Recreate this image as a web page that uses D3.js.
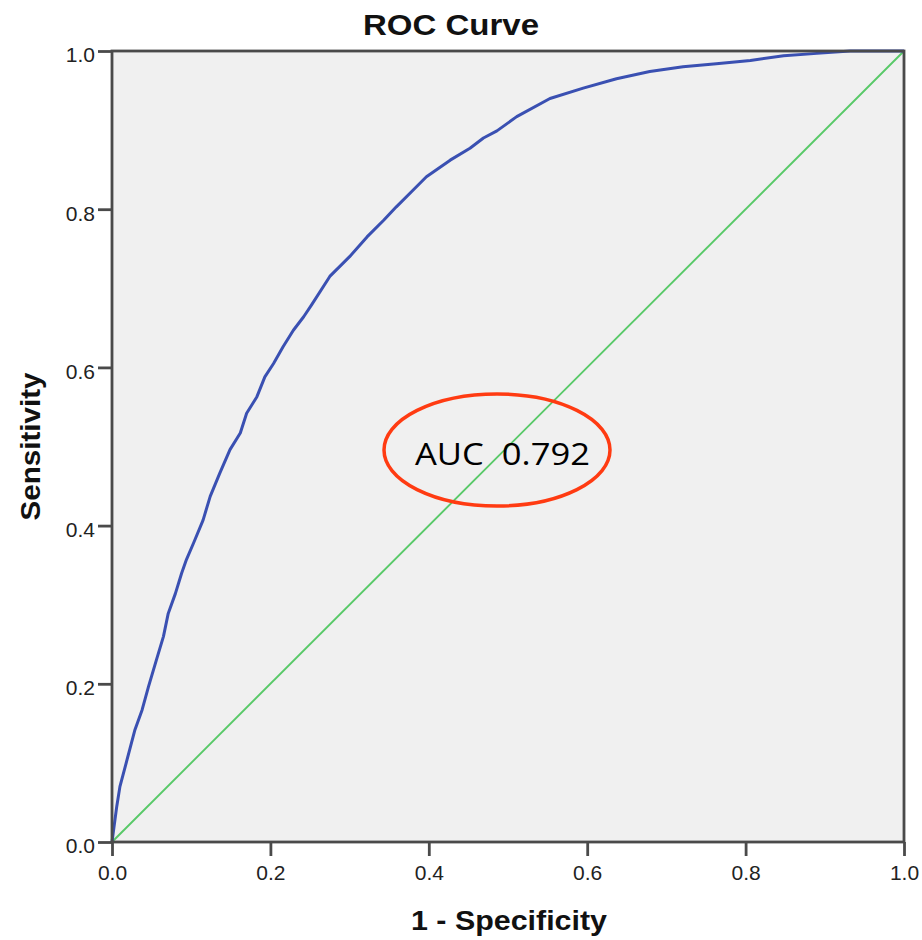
<!DOCTYPE html>
<html>
<head>
<meta charset="utf-8">
<script src="https://cdn.jsdelivr.net/npm/d3@7/dist/d3.min.js"></script>
<style>
  html, body { margin: 0; padding: 0; background: #ffffff; }
  svg { display: block; }
</style>
</head>
<body>
<svg id="chart" width="922" height="940"></svg>
<script>
// ---- data ----
const fpr = [0, .006, .010, .019, .029, .038, .046, .056, .065, .071, .080, .088, .094, .103, .115, .124, .136, .149, .162, .170, .183, .193, .204, .216, .229, .242, .252, .275, .300, .322, .343, .359, .380, .397, .427, .452, .469, .486, .511, .553, .595, .637, .679, .721, .763, .806, .848, .890, .932, 1.0];
const tpr = [0, .045, .070, .104, .142, .167, .196, .230, .260, .289, .314, .340, .357, .378, .407, .437, .466, .496, .517, .542, .563, .588, .605, .626, .647, .664, .679, .715, .740, .765, .786, .803, .824, .841, .862, .877, .890, .899, .917, .940, .953, .965, .974, .980, .984, .988, .994, .997, 1.0, 1.0];
const refLine = [0, 1];
const tickValues = [0, 0.2, 0.4, 0.6, 0.8, 1.0];
const titleText = "ROC Curve";
const xTitle = "1 - Specificity";
const yTitle = "Sensitivity";
const aucLabel = "AUC\u00a0\u00a00.792";

// ---- layout ----
const svg = d3.select("#chart");
const L = 112, R = 904, T = 51, B = 842;
const x = d3.scaleLinear().domain([0, 1]).range([L, R]);
const y = d3.scaleLinear().domain([0, 1]).range([B, T]);

svg.append("rect").attr("x", L).attr("y", T).attr("width", R - L).attr("height", B - T)
  .attr("fill", "#f0f0f0");

// diagonal reference line
svg.append("line")
  .attr("x1", x(refLine[0])).attr("y1", y(refLine[0]))
  .attr("x2", x(refLine[1])).attr("y2", y(refLine[1]))
  .attr("stroke", "#58c968").attr("stroke-width", 1.9);

// ROC curve
const pts = fpr.map((f, i) => [f, tpr[i]]);
svg.append("path").datum(pts)
  .attr("fill", "none").attr("stroke", "#3a50b2").attr("stroke-width", 3)
  .attr("stroke-linejoin", "round")
  .attr("d", d3.line().x(d => x(d[0])).y(d => y(d[1])));

// frame
svg.append("rect").attr("x", L).attr("y", T).attr("width", R - L).attr("height", B - T)
  .attr("fill", "none").attr("stroke", "#4a4a4a").attr("stroke-width", 2.8);

const fmt = d3.format(".1f");
const fontTick = "'Liberation Sans', Arial, sans-serif";

const gx = svg.append("g").attr("transform", `translate(0,${B})`)
  .call(d3.axisBottom(x).tickValues(tickValues).tickFormat(fmt).tickSize(14).tickPadding(9));
const gy = svg.append("g").attr("transform", `translate(${L},0)`)
  .call(d3.axisLeft(y).tickValues(tickValues).tickFormat(fmt).tickSize(14).tickPadding(3));
[gx, gy].forEach(g => {
  g.select(".domain").remove();
  g.selectAll(".tick line").attr("stroke", "#4a4a4a").attr("stroke-width", 2.8);
  g.selectAll(".tick text").attr("fill", "#222").style("font-family", fontTick).style("font-size", "21px");
});
gy.selectAll(".tick text").attr("dy", "0.52em");

// titles
svg.append("text").attr("x", 451).attr("y", 35).attr("text-anchor", "middle")
  .style("font-family", fontTick).style("font-weight", "bold").style("font-size", "29px")
  .attr("textLength", 176).attr("lengthAdjust", "spacingAndGlyphs")
  .attr("fill", "#111").text(titleText);

svg.append("text").attr("x", 509).attr("y", 930).attr("text-anchor", "middle")
  .style("font-family", fontTick).style("font-weight", "bold").style("font-size", "27px")
  .attr("textLength", 196).attr("lengthAdjust", "spacingAndGlyphs")
  .attr("fill", "#111").text(xTitle);

svg.append("text").attr("transform", `translate(40,${(T + B) / 2}) rotate(-90)`)
  .attr("text-anchor", "middle")
  .style("font-family", fontTick).style("font-weight", "bold").style("font-size", "27px")
  .attr("textLength", 148).attr("lengthAdjust", "spacingAndGlyphs")
  .attr("fill", "#111").text(yTitle);

// AUC annotation
svg.append("ellipse").attr("cx", 497).attr("cy", 450).attr("rx", 113).attr("ry", 56)
  .attr("fill", "none").attr("stroke", "#ff3b12").attr("stroke-width", 3.5);
svg.append("text").attr("x", 415).attr("y", 465)
  .style("font-family", "'Open Sans', 'Noto Sans', sans-serif").style("font-size", "31px")
  .attr("textLength", 175).attr("lengthAdjust", "spacingAndGlyphs")
  .attr("fill", "#000").text(aucLabel);
</script>
</body>
</html>
